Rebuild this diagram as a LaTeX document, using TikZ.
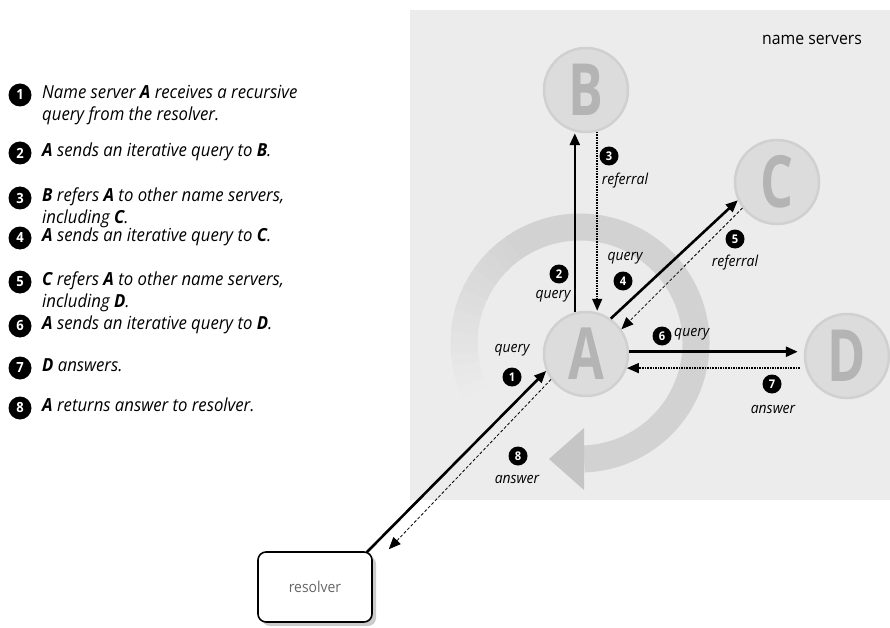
\documentclass[tikz,border=0pt]{standalone}
\usepackage{fontspec}
\setmainfont{Open Sans}[FakeStretch=0.93]
\newfontfamily\letterfont{Open Sans}[FakeStretch=0.72]
\usetikzlibrary{arrows.meta,calc,shadows}

\definecolor{panel}{RGB}{236,236,236}
\definecolor{srvfill}{RGB}{220,220,220}
\definecolor{srvedge}{RGB}{208,208,208}
\definecolor{srvletter}{RGB}{180,180,180}
\definecolor{ringcol}{RGB}{210,210,210}

\tikzset{
  bul/.style={circle, fill=black, text=white, inner sep=0pt, minimum size=23pt,
    font=\fontsize{14}{14}\selectfont\bfseries},
  sbul/.style={bul, minimum size=19pt, font=\fontsize{12}{12}\selectfont\bfseries},
  itemtext/.style={anchor=north west, inner sep=0pt, align=left,
    font=\fontsize{18}{22}\selectfont\itshape},
  lbl/.style={inner sep=0pt, font=\fontsize{15}{15}\selectfont\itshape},
  srv/.style={circle, minimum size=84pt, inner sep=0pt, fill=srvfill, draw=srvedge,
    line width=2.5pt, text=srvletter, font=\letterfont\fontsize{72}{72}\selectfont\bfseries},
  ring/.style={line width=27pt, line cap=butt},
  qarrow/.style={line width=2.6pt, -{Triangle[length=12pt,width=10pt]}},
  dotarrow/.style={line width=1.6pt, densely dotted, -{Triangle[length=12pt,width=10pt]}},
  dasharrow/.style={line width=0.8pt, densely dashed, -{Triangle[length=12pt,width=10pt]}},
  resbox/.style={draw, line width=1.6pt, rounded corners=8pt, minimum width=114pt,
    minimum height=70pt, fill=white, text=black!60, font=\fontsize{15}{15}\selectfont,
    drop shadow={shadow xshift=4pt, shadow yshift=-4pt, fill=black!40}}
}

\begin{document}
\begin{tikzpicture}[x=1pt,y=-1pt]
\useasboundingbox (0,0) rectangle (890,628);
\fill[white] (0,0) rectangle (890,628);

% name server area
\fill[panel] (410,10) rectangle (890,500);
\node[inner sep=0pt, font=\fontsize{17}{17}\selectfont] (title) at (812,40) {name servers};

% recursion ring around A, fading in at its tail
\foreach \a in {-205,-200,...,-125}{
  \pgfmathsetmacro{\p}{min(100,max(0,(\a+210)*100/85))}
  \draw[ring, ringcol!\p!panel] (580,343) ++(\a:116) arc[start angle=\a, end angle=\a+6, radius=116];
}
\draw[ring, ringcol] (580,343) ++(-121:116) arc[start angle=-121, end angle=88, radius=116];
\fill[ringcol!94!black] (584,428) -- (584,490) -- (549,459) -- cycle;

% servers
\node[srv] (B) at (586,90) {B};
\node[srv] (C) at (777,182) {C};
\node[srv] (A) at (586,354) {A};
\node[srv] (D) at (847,356) {D};

% resolver
\node[resbox] (R) at (315,587) {resolver};

% connectors
\draw[qarrow] (A.105) -- (A.105 |- B.south);
\draw[dotarrow] (B.285) -- (B.285 |- A.north);
\draw[qarrow] (A.55) -- (C.205);
\draw[dasharrow] (C.217) -- (A.35);
\draw[qarrow] (A.3) -- ($(A.3 -| D.west)+(-6,0)$);
\draw[dotarrow] ($(A.-19 -| D.west)+(-4,0)$) -- (A.-19);
\draw[qarrow] ($(R.north east)+(-6,1)$) -- (A.203);
\draw[dasharrow] (A.216) -- ($(R.north east)+(16,-2)$);

% step labels
\node[sbul] (n2) at (559,274) {2};
\node[lbl] (l2) at (553,296) {query};
\node[sbul] (n3) at (609,156) {3};
\node[lbl] (l3) at (625,181) {referral};
\node[lbl] (l4) at (625,258) {query};
\node[sbul] (n4) at (623,281) {4};
\node[sbul] (n5) at (735,239) {5};
\node[lbl] (l5) at (735,263) {referral};
\node[sbul] (n6) at (662,336) {6};
\node[lbl, anchor=west] (l6) at (674,334) {query};
\node[sbul] (n7) at (772,384) {7};
\node[lbl] (l7) at (773,409) {answer};
\node[lbl] (l1) at (512,350) {query};
\node[sbul] (n1) at (512,377) {1};
\node[sbul] (n8) at (518,456) {8};
\node[lbl] (l8) at (517,479) {answer};

% legend
\node[bul] (b1) at (20,95) {1};
\node[itemtext] (t1) at (42,85) {Name server \textbf{A} receives a recursive\\query from the resolver.};
\node[bul] (b2) at (20,153) {2};
\node[itemtext] (t2) at (42,143) {\textbf{A} sends an iterative query to \textbf{B}.};
\node[bul] (b3) at (20,198) {3};
\node[itemtext] (t3) at (42,188) {\textbf{B} refers \textbf{A} to other name servers,\\including \textbf{C}.};
\node[bul] (b4) at (20,238) {4};
\node[itemtext] (t4) at (42,228) {\textbf{A} sends an iterative query to \textbf{C}.};
\node[bul] (b5) at (20,282) {5};
\node[itemtext] (t5) at (42,272) {\textbf{C} refers \textbf{A} to other name servers,\\including \textbf{D}.};
\node[bul] (b6) at (20,326) {6};
\node[itemtext] (t6) at (42,316) {\textbf{A} sends an iterative query to \textbf{D}.};
\node[bul] (b7) at (20,368) {7};
\node[itemtext] (t7) at (42,358) {\textbf{D} answers.};
\node[bul] (b8) at (20,408) {8};
\node[itemtext] (t8) at (42,398) {\textbf{A} returns answer to resolver.};
\end{tikzpicture}
\end{document}
